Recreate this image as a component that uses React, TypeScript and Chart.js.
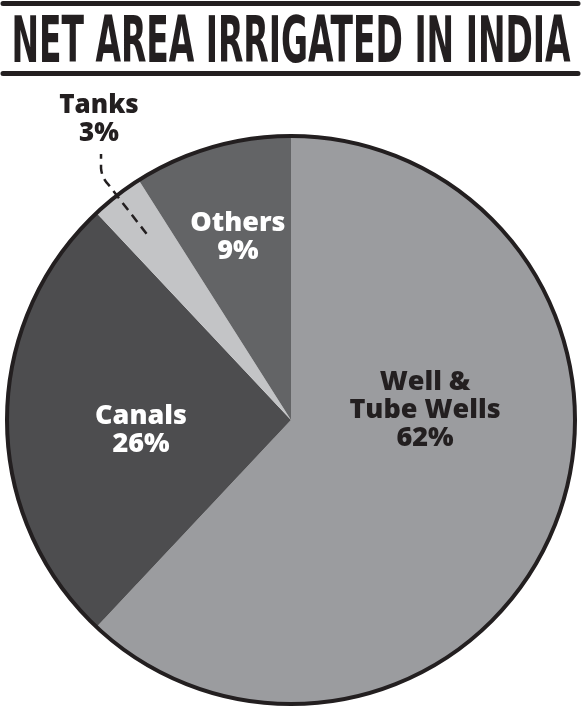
import React, { useEffect, useRef } from "react";
import { Chart, registerables } from "chart.js";

Chart.register(...registerables);

const TITLE = "NET AREA IRRIGATED IN INDIA";
const categories = ["Well & Tube Wells", "Canals", "Tanks", "Others"];
const values = [62, 26, 3, 9];
const labelLines = [["Well &", "Tube Wells", "62%"], ["Canals", "26%"], ["Tanks", "3%"], ["Others", "9%"]];
const sliceColors = ["#9b9c9f", "#4d4d4f", "#c3c4c6", "#636466"];
const labelColors = ["#231f20", "#ffffff", "#231f20", "#ffffff"];
// label anchor (first baseline) relative to pie centre, in units of radius
const labelAnchors = [
  [0.472, -0.106],
  [-0.528, 0.014],
  [-0.676, -1.081],
  [-0.187, -0.665],
];
const labelSizes = [27, 27, 26, 27];

const INK = "#231f20";

const overlay = {
  id: "overlay",
  afterDraw(chart: any) {
    const ctx = chart.ctx as CanvasRenderingContext2D;
    const meta = chart.getDatasetMeta(0);
    const arcs = meta.data;
    if (!arcs.length) return;
    const { x: cx, y: cy, outerRadius: R } = arcs[0].getProps(["x", "y", "outerRadius"], true);
    const W = chart.width;

    ctx.save();
    // outer ring
    ctx.beginPath();
    ctx.arc(cx, cy, R, 0, Math.PI * 2);
    ctx.lineWidth = 4;
    ctx.strokeStyle = INK;
    ctx.stroke();

    // title rules
    ctx.lineCap = "round";
    ctx.lineWidth = 5;
    ctx.beginPath();
    ctx.moveTo(3, 3.5);
    ctx.lineTo(W - 3, 3.5);
    ctx.moveTo(3, 73.5);
    ctx.lineTo(W - 3, 73.5);
    ctx.stroke();

    // title
    ctx.fillStyle = INK;
    ctx.textAlign = "center";
    ctx.textBaseline = "alphabetic";
    ctx.font = "bold 64px 'Liberation Sans Narrow', 'DejaVu Sans Condensed', sans-serif";
    ctx.fillText(TITLE, 291, 62, 559);

    // labels
    labelLines.forEach((lines, i) => {
      const size = labelSizes[i];
      ctx.font = `800 ${size}px 'Open Sans', sans-serif`;
      ctx.fillStyle = labelColors[i];
      const lx = cx + labelAnchors[i][0] * R;
      const ly = cy + labelAnchors[i][1] * R;
      lines.forEach((t, j) => {
        ctx.fillText(t, lx, ly + j * 28);
      });
    });

    // leader line for Tanks
    const tank = arcs[2].getProps(["startAngle", "endAngle"], true);
    const mid = (tank.startAngle + tank.endAngle) / 2;
    const dx = Math.cos(mid);
    const dy = Math.sin(mid);
    const inX = cx + dx * 0.83 * R;
    const inY = cy + dy * 0.83 * R;
    const outX = cx + dx * 1.05 * R;
    const outY = cy + dy * 1.05 * R;
    const topX = cx + labelAnchors[2][0] * R + 2;
    const topY = cy - 0.937 * R;
    ctx.beginPath();
    ctx.setLineDash([9, 6]);
    ctx.lineCap = "butt";
    ctx.lineWidth = 2.5;
    ctx.strokeStyle = INK;
    ctx.moveTo(inX, inY);
    ctx.lineTo(outX, outY);
    ctx.quadraticCurveTo(topX + 1, outY - 6, topX, outY - 16);
    ctx.lineTo(topX, topY);
    ctx.stroke();
    ctx.restore();
  },
};

export default function App() {
  const ref = useRef<HTMLCanvasElement | null>(null);
  useEffect(() => {
    if (!ref.current) return;
    const chart = new Chart(ref.current, {
      type: "pie",
      data: {
        labels: categories,
        datasets: [
          {
            data: values,
            backgroundColor: sliceColors,
            borderWidth: 0,
          },
        ],
      },
      options: {
        animation: false,
        responsive: false,
        layout: { padding: { left: 7, right: 6, top: 136, bottom: 8 } },
        plugins: {
          legend: { display: false },
          tooltip: { enabled: false },
          title: { display: false },
        },
      },
      plugins: [overlay],
    });
    return () => chart.destroy();
  }, []);
  return (
    <div style={{ position: "absolute", left: 0, top: 0, width: 581, height: 712, background: "#fff" }}>
      <canvas ref={ref} width={581} height={712} style={{ display: "block" }} />
    </div>
  );
}
